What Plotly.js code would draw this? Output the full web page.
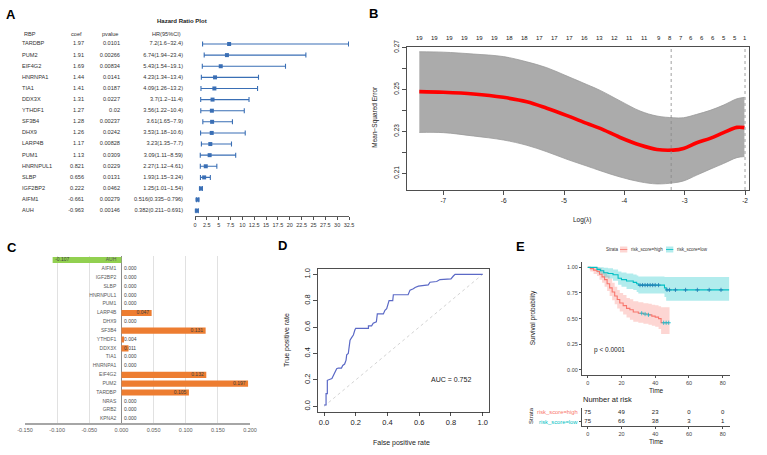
<!DOCTYPE html>
<html><head><meta charset="utf-8">
<script src="https://cdn.plot.ly/plotly-3.0.1.min.js"></script>
<style>html,body{margin:0;padding:0;background:#fff}#chart{width:767px;height:455px}</style>
</head><body><div id="chart"></div>
<script>
// ---------- Panel A: hazard ratio table / forest plot ----------
const rbpGenes = ['TARDBP','PUM2','EIF4G2','HNRNPA1','TIA1','DDX3X','YTHDF1','SF3B4','DHX9','LARP4B','PUM1','HNRNPUL1','SLBP','IGF2BP2','AIFM1','AUH'];
const rbpCoef = ['1.97','1.91','1.69','1.44','1.41','1.31','1.27','1.28','1.26','1.17','1.13','0.821','0.656','0.222','-0.661','-0.963'];
const rbpPvalue = ['0.0101','0.00266','0.00834','0.0141','0.0187','0.0227','0.02','0.00237','0.0242','0.00828','0.0309','0.0229','0.0131','0.0462','0.00279','0.00146'];
const hrValue = [7.2,6.74,5.43,4.23,4.09,3.7,3.56,3.61,3.53,3.23,3.09,2.27,1.93,1.25,0.516,0.382];
const hrLower = [1.6,1.94,1.54,1.34,1.26,1.2,1.22,1.65,1.18,1.35,1.11,1.12,1.15,1.01,0.335,0.211];
const hrUpper = [32.4,23.4,19.1,13.4,13.2,11.4,10.4,7.9,10.6,7.7,8.59,4.61,3.24,1.54,0.796,0.691];
const hrTicks = [0,2.5,5,7.5,10,12.5,15,17.5,20,22.5,25,27.5,30,32.5];

// ---------- Panel B: LASSO cross-validation ----------
const logLambda = [-7.398,-7.0,-6.5,-6.005,-5.617,-5.285,-4.95,-4.622,-4.40,-4.07,-3.74,-3.46,-3.19,-3.02,-2.80,-2.578,-2.357,-2.135,-2.01];
const cvMean  = [0.2489,0.2486,0.2478,0.2462,0.2441,0.2410,0.2375,0.2338,0.2314,0.2271,0.2235,0.2214,0.2211,0.2219,0.2246,0.2267,0.2294,0.2319,0.2318];
const cvUpper = [0.2679,0.2677,0.2668,0.2656,0.2631,0.2603,0.2563,0.2523,0.2495,0.2445,0.2397,0.2373,0.2365,0.2365,0.2381,0.2400,0.2425,0.2455,0.2462];
const cvLower = [0.2295,0.2294,0.2278,0.2259,0.2234,0.2203,0.2167,0.2135,0.2113,0.2083,0.2060,0.2050,0.2055,0.2064,0.2092,0.2120,0.2147,0.2175,0.2180];
const lambdaMin = -3.224, lambda1se = -2.0;
const nzeroPos = [-7.397,-7.149,-6.900,-6.651,-6.403,-6.154,-5.905,-5.657,-5.408,-5.159,-4.910,-4.662,-4.413,-4.164,-3.915,-3.667,-3.418,-3.240,-3.064,-2.892,-2.715,-2.533,-2.356,-2.174,-2.008];
const nzeroLabels = ['19','19','19','19','19','19','18','18','17','17','17','16','13','12','11','11','9','8','7','6','6','6','5','5','1'];
const bXTicks = [-7,-6,-5,-4,-3,-2];
const bYTicks = [0.21,0.22,0.23,0.24,0.25,0.26,0.27];
const bYLabels = ['0.21','','0.23','','0.25','','0.27'];

// ---------- Panel C: coefficients ----------
const lassoGenes = ['AUH','AIFM1','IGF2BP2','SLBP','HNRNPUL1','PUM1','LARP4B','DHX9','SF3B4','YTHDF1','DDX3X','TIA1','HNRNPA1','EIF4G2','PUM2','TARDBP','NRAS','GRB2','KPNA2'];
const lassoCoef = [-0.107,0,0,0,0,0,0.047,0,0.131,0.004,0.011,0,0,0.132,0.197,0.105,0,0,0];
const cTicks = [-0.15,-0.1,-0.05,0,0.05,0.1,0.15,0.2];

// ---------- Panel D: ROC ----------
const rocFpr = [0,0.013,0.013,0.021,0.021,0.04,0.05,0.06,0.07,0.08,0.09,0.11,0.118,0.13,0.139,0.143,0.153,0.158,0.164,0.174,0.185,0.195,0.20,0.28,0.28,0.30,0.31,0.33,0.333,0.336,0.374,0.384,0.395,0.405,0.41,0.433,0.437,0.53,0.542,0.563,0.574,0.595,0.657,0.668,0.71,0.731,0.80,0.815,0.826,1.0];
const rocTpr = [0.01,0.01,0.096,0.096,0.197,0.205,0.21,0.235,0.26,0.285,0.29,0.29,0.31,0.32,0.35,0.39,0.40,0.45,0.50,0.52,0.54,0.58,0.59,0.59,0.61,0.61,0.63,0.64,0.67,0.70,0.70,0.727,0.74,0.77,0.80,0.80,0.845,0.845,0.88,0.89,0.90,0.91,0.92,0.94,0.945,0.96,0.965,0.987,1.0,1.0];
const rocTicks = [0,0.2,0.4,0.6,0.8,1.0];
const aucLabel = 'AUC = 0.752';

// ---------- Panel E: Kaplan-Meier ----------
const kmHighT = [0,1.5,3.5,5.5,7,8.5,10,11.5,13,14.5,16,17.5,19,21,23,25,27,30,33,36,38,40,42,43.5,48.5];
const kmHighS = [1,0.987,0.973,0.96,0.933,0.907,0.88,0.84,0.80,0.76,0.72,0.687,0.653,0.627,0.60,0.587,0.565,0.553,0.545,0.537,0.525,0.515,0.50,0.46,0.46];
const kmHighU = [1,1,1,1,0.99,0.97,0.95,0.92,0.89,0.85,0.81,0.78,0.75,0.73,0.70,0.69,0.67,0.66,0.65,0.645,0.635,0.63,0.62,0.61,0.61];
const kmHighL = [1,0.96,0.935,0.915,0.88,0.85,0.81,0.77,0.72,0.68,0.64,0.60,0.57,0.54,0.51,0.49,0.47,0.46,0.45,0.44,0.43,0.42,0.40,0.35,0.35];
const kmLowT = [0,4.5,5.5,7.5,9.5,12,15,18,20,23,27,29,30,44,45.5,46.5,83.8];
const kmLowS = [1,1,0.98,0.967,0.947,0.94,0.927,0.893,0.88,0.867,0.853,0.84,0.827,0.827,0.80,0.78,0.78];
const kmLowU = [1,1,1,1,0.995,0.99,0.98,0.96,0.95,0.94,0.93,0.92,0.91,0.91,0.905,0.905,0.905];
const kmLowL = [1,1,0.95,0.93,0.90,0.89,0.87,0.83,0.81,0.79,0.78,0.76,0.745,0.745,0.71,0.675,0.675];
const censorHighT = [32,34,36,45,46.5,48];
const censorLowT = [31,32.5,34,35.5,37,38.5,40,42,47,48.5,52,58,65,72,79];
const riskStrata = ['risk_score=high','risk_score=low'];
const riskTimes = [0,20,40,60,80];
const riskHigh = [75,49,23,0,0];
const riskLow = [75,66,38,3,1];
const eXTicks = [0,20,40,60,80];
const eYTicks = [0,0.25,0.5,0.75,1];

// ---------- helpers ----------
const W = 767, H = 455;
const fx = p => p / W;
const fy = p => 1 - p / H;
const F = 'Liberation Sans, Arial, sans-serif';
const blue = '#3a6fb5';
const colHigh = '#F8766D', colLow = '#00BFC4';
const stepAt = (t, T, S) => { let v = S[0]; for (let i = 0; i < T.length; i++) { if (T[i] <= t) v = S[i]; } return v; };

const traces = [];

// Panel A forest
traces.push({type:'scatter', mode:'markers', x:hrValue, y:rbpGenes, xaxis:'x', yaxis:'y',
  marker:{symbol:'square', size:4, color:blue},
  error_x:{type:'data', symmetric:false, array:hrUpper.map((u,i)=>u-hrValue[i]), arrayminus:hrValue.map((h,i)=>h-hrLower[i]), color:blue, thickness:1.1, width:2.5},
  cliponaxis:false, hoverinfo:'skip'});
// Panel A table columns
const tFont = {size:5.6, color:'#333', family:F};
traces.push({type:'scatter', mode:'text', x:rbpGenes.map(()=>22), y:rbpGenes, text:rbpGenes, textposition:'middle right', textfont:tFont, xaxis:'x2', yaxis:'y', cliponaxis:false, hoverinfo:'skip'});
traces.push({type:'scatter', mode:'text', x:rbpGenes.map(()=>84), y:rbpGenes, text:rbpCoef, textposition:'middle left', textfont:tFont, xaxis:'x2', yaxis:'y', cliponaxis:false, hoverinfo:'skip'});
traces.push({type:'scatter', mode:'text', x:rbpGenes.map(()=>120), y:rbpGenes, text:rbpPvalue, textposition:'middle left', textfont:tFont, xaxis:'x2', yaxis:'y', cliponaxis:false, hoverinfo:'skip'});
traces.push({type:'scatter', mode:'text', x:rbpGenes.map(()=>183), y:rbpGenes, text:hrValue.map((h,i)=>`${h}(${hrLower[i]}\u2212${hrUpper[i]})`), textposition:'middle left', textfont:tFont, xaxis:'x2', yaxis:'y', cliponaxis:false, hoverinfo:'skip'});

// Panel B
traces.push({type:'scatter', mode:'lines', x:logLambda, y:cvLower, xaxis:'x3', yaxis:'y3', line:{color:'#9a9a9a', width:0.8, shape:'spline'}, hoverinfo:'skip'});
traces.push({type:'scatter', mode:'lines', x:logLambda, y:cvUpper, xaxis:'x3', yaxis:'y3', line:{color:'#9a9a9a', width:0.8, shape:'spline'}, fill:'tonexty', fillcolor:'#ababab', hoverinfo:'skip'});
traces.push({type:'scatter', mode:'lines', x:logLambda, y:cvMean, xaxis:'x3', yaxis:'y3', line:{color:'#ff0000', width:3.6, shape:'spline'}, hoverinfo:'skip'});

// Panel C
const cNameGap = 0.008, cValGap = 0.004;
traces.push({type:'bar', orientation:'h', x:lassoCoef, y:lassoGenes, xaxis:'x4', yaxis:'y4', width:0.7,
  marker:{color:lassoCoef.map(v=>v<0?'#92D050':'#ED7D31')}, hoverinfo:'skip'});
traces.push({type:'scatter', mode:'text', x:lassoGenes.map(()=>-cNameGap), y:lassoGenes, text:lassoGenes, textposition:'middle left', textfont:{size:5, color:'#595959', family:F}, xaxis:'x4', yaxis:'y4', cliponaxis:false, hoverinfo:'skip'});
traces.push({type:'scatter', mode:'text',
  x:lassoCoef.map(v=>v>=0.03 ? v-cValGap : (v<0 ? v+cValGap : cValGap)), y:lassoGenes, text:lassoCoef.map(v=>v.toFixed(3)),
  textposition:lassoCoef.map(v=>v>=0.03?'middle left':'middle right'), textfont:{size:5, color:'#404040', family:F}, xaxis:'x4', yaxis:'y4', cliponaxis:false, hoverinfo:'skip'});

// Panel D
traces.push({type:'scatter', mode:'lines', x:[0,1], y:[0,1], xaxis:'x5', yaxis:'y5', line:{color:'#c8c8c8', width:0.8, dash:'dot'}, hoverinfo:'skip'});
traces.push({type:'scatter', mode:'lines', x:rocFpr, y:rocTpr, xaxis:'x5', yaxis:'y5', line:{color:'#5b69c6', width:1.2}, hoverinfo:'skip'});

// Panel E
traces.push({type:'scatter', mode:'lines', x:kmHighT, y:kmHighL, xaxis:'x6', yaxis:'y6', line:{width:0, shape:'hv', color:colHigh}, hoverinfo:'skip'});
traces.push({type:'scatter', mode:'lines', x:kmHighT, y:kmHighU, xaxis:'x6', yaxis:'y6', line:{width:0, shape:'hv', color:colHigh}, fill:'tonexty', fillcolor:'rgba(248,118,109,0.3)', hoverinfo:'skip'});
traces.push({type:'scatter', mode:'lines', x:kmLowT, y:kmLowL, xaxis:'x6', yaxis:'y6', line:{width:0, shape:'hv', color:colLow}, hoverinfo:'skip'});
traces.push({type:'scatter', mode:'lines', x:kmLowT, y:kmLowU, xaxis:'x6', yaxis:'y6', line:{width:0, shape:'hv', color:colLow}, fill:'tonexty', fillcolor:'rgba(0,191,196,0.3)', hoverinfo:'skip'});
traces.push({type:'scatter', mode:'lines', x:kmHighT, y:kmHighS, xaxis:'x6', yaxis:'y6', line:{width:1.1, shape:'hv', color:colHigh}, hoverinfo:'skip'});
traces.push({type:'scatter', mode:'lines', x:kmLowT, y:kmLowS, xaxis:'x6', yaxis:'y6', line:{width:1.1, shape:'hv', color:colLow}, hoverinfo:'skip'});
traces.push({type:'scatter', mode:'markers', x:censorHighT, y:censorHighT.map(t=>stepAt(t,kmHighT,kmHighS)), xaxis:'x6', yaxis:'y6', marker:{symbol:'cross-thin-open', size:3, line:{color:colHigh, width:0.8}}, hoverinfo:'skip'});
traces.push({type:'scatter', mode:'markers', x:censorLowT, y:censorLowT.map(t=>stepAt(t,kmLowT,kmLowS)), xaxis:'x6', yaxis:'y6', marker:{symbol:'cross-thin-open', size:3, line:{color:colLow, width:0.8}}, hoverinfo:'skip'});
// risk table
traces.push({type:'scatter', mode:'text', x:riskTimes.concat(riskTimes), y:riskTimes.map(()=>riskStrata[0]).concat(riskTimes.map(()=>riskStrata[1])),
  text:riskHigh.concat(riskLow).map(String), textposition:'middle center', textfont:{size:6, color:'#222', family:F}, xaxis:'x7', yaxis:'y7', cliponaxis:false, hoverinfo:'skip'});

// ---------- annotations ----------
const ann = [];
const A = (x, y, text, o={}) => ann.push(Object.assign({xref:'paper', yref:'paper', x:fx(x), y:fy(y), text, showarrow:false, xanchor:'center', yanchor:'middle', font:{size:6, color:'#333', family:F}}, o));
const bold = s => '<b>'+s+'</b>';
[['A',11,14],['B',373.5,13.7],['C',12,247.5],['D',282,245.6],['E',520,247]].forEach(([t,x,y]) => A(x,y,bold(t),{font:{size:13,color:'#000',family:F}}));
A(181.5,20.7,bold('Hazard Ratio Plot'),{font:{size:6,color:'#222',family:F}});
A(22,33.7,'RBP',{xanchor:'left',font:tFont});
A(84,33.7,'coef',{xanchor:'right',font:tFont});
A(120,33.7,'pvalue',{xanchor:'right',font:tFont});
A(183,33.7,'HR(95%CI)',{xanchor:'right',font:tFont});
// B
A(581.7,220,'Log(\u03bb)',{font:{size:6.5,color:'#222',family:F}});
A(375,116.7,'Mean\u2212Squared Error',{textangle:-90,font:{size:6.5,color:'#222',family:F}});
nzeroPos.forEach((p,i)=>ann.push({xref:'x3', yref:'paper', x:p, y:fy(32.7), text:nzeroLabels[i], showarrow:false, font:{size:6,color:'#222',family:F}}));
// D
A(401.7,443,'False positive rate',{font:{size:7,color:'#222',family:F}});
A(287,340,'True positive rate',{textangle:-90,font:{size:7,color:'#222',family:F}});
ann.push({xref:'x5', yref:'y5', x:0.8, y:0.2, text:aucLabel, showarrow:false, font:{size:7,color:'#222',family:F}});
// E
A(533.3,318,'Survival probability',{textangle:-90,font:{size:6.5,color:'#222',family:F}});
A(656,390.5,'Time',{font:{size:6.5,color:'#222',family:F}});
A(591.5,350,'p < 0.0001',{xanchor:'left',font:{size:6.5,color:'#222',family:F}});
A(581,399.3,'Number at risk',{xanchor:'left',font:{size:7.5,color:'#222',family:F}});
A(656,441.5,'Time',{font:{size:6.5,color:'#222',family:F}});
A(531,416,'Strata',{textangle:-90,font:{size:6,color:'#222',family:F}});
riskStrata.forEach((s,i)=>ann.push({xref:'paper', yref:'y7', x:fx(579.5), y:s, text:s, showarrow:false, xanchor:'right', font:{size:5.8,color:i===0?colHigh:colLow,family:F}}));
// E legend
A(604.3,249.5,'Strata',{xanchor:'left',font:{size:4.5,color:'#333',family:F}});
A(629.3,249.5,riskStrata[0],{xanchor:'left',font:{size:4.5,color:'#333',family:F}});
A(675.3,249.5,riskStrata[1],{xanchor:'left',font:{size:4.5,color:'#333',family:F}});

const shapes = [
  {type:'line', xref:'x3', yref:'paper', x0:lambdaMin, x1:lambdaMin, y0:fy(190), y1:fy(46.7), line:{color:'#888', width:0.8, dash:'dot'}},
  {type:'line', xref:'x3', yref:'paper', x0:lambda1se, x1:lambda1se, y0:fy(190), y1:fy(46.7), line:{color:'#888', width:0.8, dash:'dot'}},
  {type:'rect', xref:'paper', yref:'paper', x0:fx(620), x1:fx(627.3), y0:fy(252.5), y1:fy(246.5), fillcolor:'rgba(248,118,109,0.3)', line:{width:0}},
  {type:'line', xref:'paper', yref:'paper', x0:fx(620), x1:fx(627.3), y0:fy(249.5), y1:fy(249.5), line:{color:colHigh, width:0.8}},
  {type:'rect', xref:'paper', yref:'paper', x0:fx(666), x1:fx(673.3), y0:fy(252.5), y1:fy(246.5), fillcolor:'rgba(0,191,196,0.3)', line:{width:0}},
  {type:'line', xref:'paper', yref:'paper', x0:fx(666), x1:fx(673.3), y0:fy(249.5), y1:fy(249.5), line:{color:colLow, width:0.8}}
];

const axBase = {showgrid:false, zeroline:false, showline:true, linecolor:'#222', linewidth:0.8, ticks:'outside', tickcolor:'#222', tickwidth:0.8};
const layout = {
  width:W, height:H, margin:{l:0,r:0,t:0,b:0}, paper_bgcolor:'#fff', plot_bgcolor:'rgba(0,0,0,0)', showlegend:false,
  font:{family:F, color:'#333'},
  // A
  xaxis:Object.assign({}, axBase, {domain:[fx(195),fx(349)], anchor:'y', range:[0,32.5], tickvals:hrTicks, ticktext:hrTicks.map(String), ticklen:3, tickfont:{size:5.5,color:'#333'}, linecolor:'#333'}),
  yaxis:{domain:[fy(216.3),fy(38.45)], anchor:'x', type:'category', range:[15.5,-0.5], visible:false},
  xaxis2:{domain:[0,fx(190)], anchor:'y', range:[0,190], visible:false},
  // B
  xaxis3:Object.assign({}, axBase, {domain:[fx(406.7),fx(749)], anchor:'y3', range:[-7.607,-1.934], tickvals:bXTicks, ticktext:bXTicks.map(String), ticklen:4, mirror:true, tickfont:{size:6.5,color:'#222'}}),
  yaxis3:Object.assign({}, axBase, {domain:[fy(190),fy(46.7)], anchor:'x3', range:[0.2021,0.2703], tickvals:bYTicks, ticktext:bYLabels, tickangle:-90, ticklen:4, mirror:true, tickfont:{size:6.5,color:'#222'}}),
  // C
  xaxis4:{domain:[fx(25),fx(250)], anchor:'y4', range:[-0.15,0.2], tickvals:cTicks, ticktext:cTicks.map(v=>v.toFixed(3)), showgrid:true, gridcolor:'#d9d9d9', gridwidth:0.8,
          zeroline:true, zerolinecolor:'#8c8c8c', zerolinewidth:1.5, showline:true, linecolor:'#a6a6a6', linewidth:1.5, ticks:'', tickfont:{size:5.5,color:'#595959'}},
  yaxis4:{domain:[fy(423.4),fy(255.6)], anchor:'x4', type:'category', range:[18.5,-0.5], visible:false},
  // D
  xaxis5:Object.assign({}, axBase, {domain:[fx(317.65),fx(489.05)], anchor:'y5', range:[-0.04,1.04], tickvals:rocTicks, ticktext:rocTicks.map(v=>v.toFixed(1)), ticklen:4, mirror:true, tickfont:{size:7.5,color:'#222'}}),
  yaxis5:Object.assign({}, axBase, {domain:[fy(411.6),fy(269.0)], anchor:'x5', range:[-0.04,1.04], tickvals:rocTicks, ticktext:rocTicks.map(v=>v.toFixed(1)), tickangle:-90, ticklen:4, mirror:true, tickfont:{size:7.5,color:'#222'}}),
  // E
  xaxis6:Object.assign({}, axBase, {domain:[fx(581.7),fx(730)], anchor:'y6', range:[-3.556,84.33], tickvals:eXTicks, ticktext:eXTicks.map(String), ticklen:2, tickfont:{size:5.5,color:'#444'}}),
  yaxis6:Object.assign({}, axBase, {domain:[fy(375.1),fy(262.2)], anchor:'x6', range:[-0.05,1.05], tickvals:eYTicks, ticktext:eYTicks.map(v=>v.toFixed(2)), ticklen:2, tickfont:{size:5.5,color:'#444'}}),
  xaxis7:Object.assign({}, axBase, {domain:[fx(581.7),fx(730)], anchor:'y7', range:[-3.556,84.33], tickvals:eXTicks, ticktext:eXTicks.map(String), ticklen:2, tickfont:{size:5.5,color:'#444'}}),
  yaxis7:Object.assign({}, axBase, {domain:[fy(426.4),fy(407.6)], anchor:'x7', type:'category', categoryorder:'array', categoryarray:[riskStrata[1],riskStrata[0]], range:[-0.5,1.5], ticklen:2, showticklabels:false}),
  annotations:ann, shapes:shapes
};
Plotly.newPlot('chart', traces, layout, {staticPlot:true, displayModeBar:false});
</script></body></html>
